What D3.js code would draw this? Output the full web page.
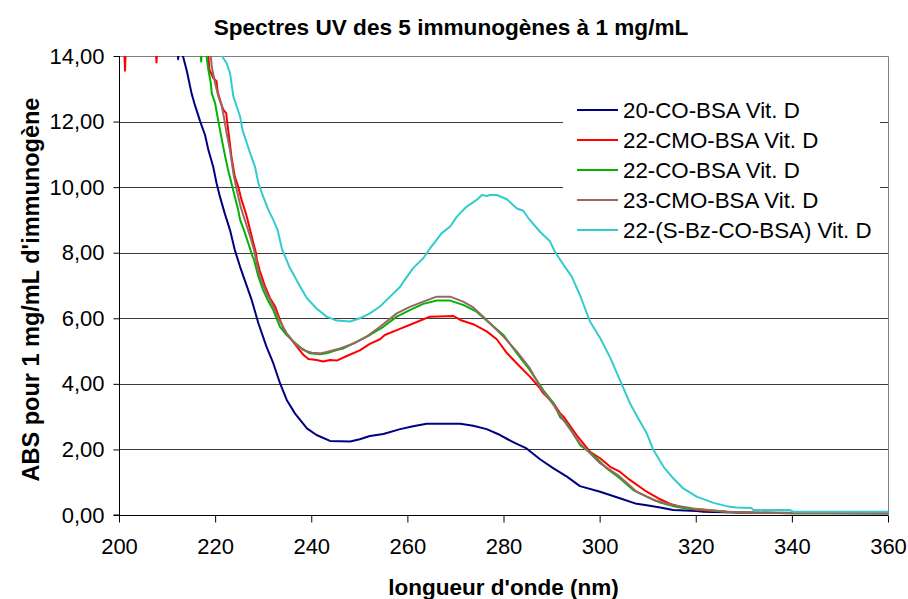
<!DOCTYPE html>
<html>
<head>
<meta charset="utf-8">
<script src="https://cdn.jsdelivr.net/npm/d3@7"></script>
<style>
  html, body { margin: 0; padding: 0; background: #fff; }
  svg { display: block; }
  text { font-family: "Liberation Sans", Arial, sans-serif; fill: #000; }
</style>
</head>
<body>
<svg id="chart" width="908" height="599"></svg>
<script>
// UV absorbance spectra (wavelength in nm, absorbance per 1 mg/mL)
// Values above 14 run off the top of the plot and are clipped.
const s20CO = [[200,14.6],[212.0,14.6],[212.3,13.9],[212.6,14.6],[213.3,14.0],[214.1,13.55],[215.1,12.86],[215.8,12.5],[216.9,12.0],[217.9,11.59],[218.6,11.13],[219.6,10.62],[220.3,10.12],[221.0,9.71],[222.0,9.2],[223.1,8.69],[224.1,8.08],[225.2,7.57],[225.9,7.27],[227.6,6.56],[229.0,5.85],[230.7,5.13],[232.1,4.63],[233.5,4.02],[234.9,3.51],[236.6,3.10],[239.1,2.64],[241.1,2.44],[243.9,2.26],[248.1,2.24],[250.1,2.31],[252.2,2.41],[255.0,2.47],[258.5,2.62],[261.2,2.71],[264.0,2.78],[271.0,2.78],[273.7,2.72],[276.5,2.62],[279.3,2.44],[282.0,2.22],[284.8,2.03],[287.6,1.70],[290.4,1.42],[293.2,1.17],[295.9,0.88],[300.1,0.71],[304.2,0.51],[307.7,0.34],[309.8,0.30],[312.6,0.23],[315.3,0.15],[320.2,0.12],[321.6,0.10],[330,0.07],[360,0.05]];

const s22CMO = [[200,14.6],[201.0,14.6],[201.25,13.55],[201.5,14.6],[207.5,14.6],[207.8,13.8],[208.1,14.6],[218.4,14.6],[218.6,14.0],[218.8,13.59],[219.6,13.33],[220.3,13.23],[220.5,12.93],[221.0,12.66],[221.7,12.36],[222.3,12.26],[222.5,12.0],[222.9,11.54],[223.4,10.93],[224.1,10.32],[224.8,10.02],[225.5,9.61],[226.4,9.2],[227.1,8.8],[227.8,8.39],[228.5,7.99],[228.7,7.78],[229.3,7.45],[230.4,6.97],[231.4,6.62],[232.5,6.36],[233.5,5.95],[234.5,5.59],[235.9,5.34],[237.3,5.08],[238.4,4.88],[239.4,4.76],[241.1,4.73],[242.5,4.68],[243.9,4.73],[245.3,4.71],[247.4,4.85],[250.1,5.02],[252.2,5.22],[254.3,5.36],[255.3,5.49],[257.8,5.64],[261.2,5.84],[264.7,6.05],[269.6,6.07],[271.0,5.95],[273.7,5.82],[276.5,5.6],[278.6,5.36],[280.7,4.94],[283.4,4.53],[285.5,4.22],[287.6,3.86],[288.3,3.71],[290.4,3.41],[291.8,3.1],[292.5,3.0],[295.2,2.44],[298.0,1.93],[300.1,1.73],[302.2,1.47],[304.2,1.32],[306.3,1.07],[309.8,0.71],[312.6,0.48],[314.7,0.34],[316.8,0.25],[320.2,0.15],[326.4,0.10],[332.0,0.07],[340.3,0.05],[360,0.05]];

const s22CO = [[200,14.6],[216.8,14.6],[217.1,13.83],[217.4,14.6],[218.1,14.6],[218.2,14.0],[218.6,13.57],[219.1,13.17],[219.3,12.86],[220.0,12.56],[220.5,12.15],[220.9,11.84],[221.4,11.44],[222.1,10.93],[222.7,10.52],[223.4,10.12],[224.1,9.71],[224.8,9.3],[225.2,9.0],[226.0,8.69],[226.9,8.29],[227.8,7.88],[228.1,7.78],[229.0,7.27],[230.0,6.86],[231.1,6.51],[232.1,6.25],[233.5,5.74],[234.9,5.49],[236.3,5.29],[238.0,5.08],[239.7,4.93],[241.8,4.9],[243.2,4.93],[245.3,5.03],[246.7,5.08],[249.5,5.29],[252.2,5.49],[255.0,5.74],[257.8,6.05],[260.5,6.25],[263.3,6.44],[266.1,6.54],[268.9,6.54],[271.6,6.41],[274.4,6.2],[277.2,5.84],[280.0,5.49],[282.8,4.93],[285.5,4.42],[288.3,3.8],[290.4,3.41],[291.8,2.98],[293.2,2.8],[295.9,2.14],[298.7,1.83],[301.5,1.42],[304.2,1.12],[307.0,0.76],[309.8,0.56],[312.6,0.38],[315.3,0.27],[318.1,0.2],[320.9,0.17],[326.4,0.1],[332.0,0.07],[340.3,0.05],[360,0.05]];

const s23CMO = [[200,14.6],[219.0,14.6],[219.1,14.0],[219.3,13.67],[220.0,13.17],[220.7,12.76],[221.4,12.46],[221.8,12.15],[222.4,11.64],[223.1,11.13],[223.8,10.42],[224.5,9.91],[225.3,9.4],[226.4,8.9],[227.3,8.49],[228.1,8.08],[228.8,7.58],[229.3,7.27],[230.7,6.76],[232.1,6.36],[233.5,5.9],[234.9,5.54],[236.6,5.23],[238.4,5.03],[240.1,4.95],[241.8,4.93],[243.2,4.97],[246.0,5.08],[248.8,5.23],[251.6,5.45],[254.3,5.74],[257.8,6.15],[260.5,6.35],[263.3,6.51],[266.1,6.66],[268.9,6.66],[271.6,6.51],[273.7,6.33],[275.8,6.05],[277.9,5.74],[280.0,5.44],[282.8,4.98],[285.5,4.47],[287.6,3.9],[290.4,3.36],[293.2,2.75],[295.9,2.19],[300.1,1.58],[304.2,1.17],[307.7,0.71],[311.2,0.46],[315.3,0.3],[319.5,0.2],[326.4,0.1],[332.0,0.07],[360,0.05]];

const s22SBz = [[200,14.6],[221.3,14.6],[221.4,14.0],[222.4,13.78],[223.1,13.48],[223.4,13.17],[223.8,12.76],[224.5,12.46],[225.2,12.15],[225.7,11.74],[226.6,11.34],[227.3,11.03],[228.3,10.62],[229.0,10.12],[230.0,9.71],[231.1,9.3],[232.1,9.0],[233.0,8.69],[233.9,8.12],[235.4,7.58],[237.7,6.96],[239.1,6.61],[241.1,6.3],[243.2,6.05],[245.3,5.93],[248.1,5.9],[250.1,6.0],[252.2,6.15],[254.3,6.36],[256.4,6.66],[258.5,6.96],[259.2,7.12],[261.2,7.53],[263.3,7.83],[264.7,8.13],[265.8,8.34],[267.1,8.59],[268.9,8.8],[270.3,9.1],[272.3,9.4],[274.4,9.61],[275.5,9.76],[276.5,9.73],[277.2,9.76],[278.6,9.76],[280.7,9.63],[282.8,9.35],[284.1,9.28],[285.2,9.05],[287.6,8.64],[289.7,8.34],[290.7,8.03],[292.5,7.63],[294.2,7.27],[295.9,6.71],[298.0,5.9],[300.1,5.4],[302.2,4.8],[304.2,4.12],[306.3,3.41],[308.4,2.85],[309.8,2.49],[311.2,1.98],[313.3,1.47],[315.3,1.12],[317.4,0.81],[320.2,0.56],[323.7,0.37],[326.4,0.27],[328.5,0.23],[331.6,0.21],[332.0,0.15],[339.6,0.15],[340.3,0.10],[360,0.10]];

const seriesNames = ["20-CO-BSA Vit. D", "22-CMO-BSA Vit. D", "22-CO-BSA Vit. D", "23-CMO-BSA Vit. D", "22-(S-Bz-CO-BSA) Vit. D"];
const seriesColors = ["#000080", "#ff0000", "#00b400", "#996666", "#33cccc"];
const seriesData = [s20CO, s22CMO, s22CO, s23CMO, s22SBz];

const xTicks = [200, 220, 240, 260, 280, 300, 320, 340, 360];
const yTicks = [0, 2, 4, 6, 8, 10, 12, 14];

const titleText = "Spectres UV des 5 immunogènes à 1 mg/mL";
const xTitle = "longueur d'onde (nm)";
const yTitle = "ABS pour 1 mg/mL d'immunogène";

// Layout
const plot = { left: 119, right: 888, top: 56, bottom: 515 };
const svg = d3.select("#chart");

const x = d3.scaleLinear().domain([200, 360]).range([plot.left, plot.right]);
const y = d3.scaleLinear().domain([0, 14]).range([plot.bottom, plot.top]);

const frLocale = d3.formatLocale({ decimal: ",", thousands: " ", grouping: [3], currency: ["", " €"] });
const fmtY = frLocale.format(".2f");

// Horizontal gridlines
svg.append("g")
  .selectAll("line")
  .data(yTicks.filter(t => t > 0 && t < 14))
  .join("line")
  .attr("x1", plot.left).attr("x2", plot.right)
  .attr("y1", d => Math.round(y(d)) + 0.5).attr("y2", d => Math.round(y(d)) + 0.5)
  .attr("stroke", "#3a3a3a").attr("stroke-width", 1);

// Plot area border (top and right)
svg.append("path")
  .attr("d", `M${plot.left},${plot.top + 0.5}H${plot.right + 0.5}V${plot.bottom}`)
  .attr("fill", "none").attr("stroke", "#808080").attr("stroke-width", 1);

// Series lines, clipped to the plot area
svg.append("clipPath").attr("id", "plotClip")
  .append("rect")
  .attr("x", plot.left).attr("y", plot.top)
  .attr("width", plot.right - plot.left).attr("height", plot.bottom - plot.top);

const line = d3.line().x(d => x(d[0])).y(d => y(d[1]));

svg.append("g").attr("clip-path", "url(#plotClip)")
  .selectAll("path")
  .data(seriesData)
  .join("path")
  .attr("d", d => line(d))
  .attr("fill", "none")
  .attr("stroke", (d, i) => seriesColors[i])
  .attr("stroke-width", 2)
  .attr("stroke-linejoin", "round");

// Axes
const yAxis = d3.axisLeft(y).tickValues(yTicks).tickFormat(fmtY).tickSize(6).tickPadding(9);
const xAxis = d3.axisBottom(x).tickValues(xTicks).tickFormat(d3.format("d")).tickSize(7).tickPadding(16);

const gy = svg.append("g").attr("transform", `translate(${plot.left + 0.5},0)`).call(yAxis);
const gx = svg.append("g").attr("transform", `translate(0,${plot.bottom + 0.5})`).call(xAxis);

[gx, gy].forEach(g => {
  g.select(".domain").attr("stroke", "#000");
  g.selectAll(".tick line").attr("stroke", "#000");
  g.selectAll(".tick text")
    .attr("font-family", "Liberation Sans, Arial, sans-serif")
    .attr("font-size", 22)
    .attr("fill", "#000");
});
gy.select(".domain").attr("d", `M-6,${plot.bottom}H0V${plot.top}`);
gx.select(".domain").attr("d", `M${plot.left},0H${plot.right}`);

// Legend
const legend = svg.append("g");
legend.append("rect")
  .attr("x", 563).attr("y", 92).attr("width", 317).attr("height", 158)
  .attr("fill", "#fff");
const rowY = d => 110 + d * 30;
legend.selectAll("line")
  .data(seriesNames)
  .join("line")
  .attr("x1", 577).attr("x2", 618)
  .attr("y1", (d, i) => rowY(i)).attr("y2", (d, i) => rowY(i))
  .attr("stroke", (d, i) => seriesColors[i])
  .attr("stroke-width", 2);
legend.selectAll("text")
  .data(seriesNames)
  .join("text")
  .attr("x", 623)
  .attr("y", (d, i) => rowY(i))
  .attr("dy", "0.36em")
  .attr("font-size", 22.3)
  .text(d => d);

// Titles
svg.append("text")
  .attr("x", 451).attr("y", 35)
  .attr("text-anchor", "middle")
  .attr("font-size", 22.6).attr("font-weight", "bold")
  .text(titleText);

svg.append("text")
  .attr("x", (plot.left + plot.right) / 2).attr("y", 595)
  .attr("text-anchor", "middle")
  .attr("font-size", 22.5).attr("font-weight", "bold")
  .text(xTitle);

svg.append("text")
  .attr("transform", `translate(39,${(plot.top + plot.bottom) / 2 + 4}) rotate(-90)`)
  .attr("text-anchor", "middle")
  .attr("font-size", 23.5).attr("font-weight", "bold")
  .text(yTitle);
</script>
</body>
</html>
